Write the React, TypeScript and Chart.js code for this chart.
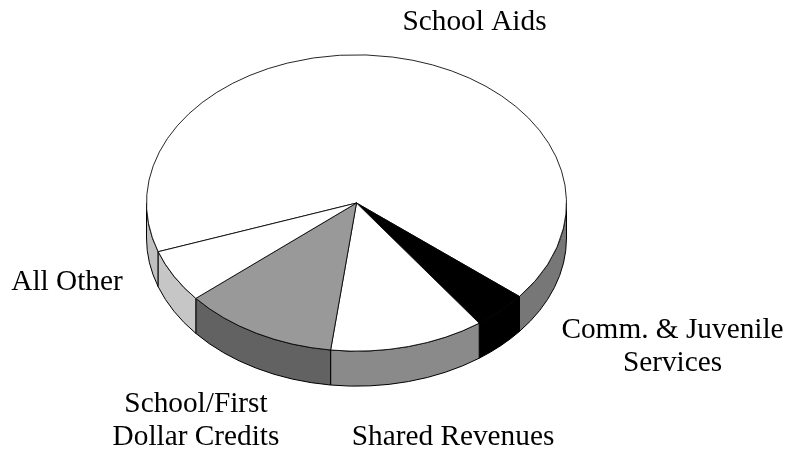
import React, { useEffect, useRef } from "react";
import { Chart, registerables } from "chart.js";

Chart.register(...registerables);

const categories = ["School Aids", "Comm. & Juvenile Services", "Shared Revenues", "School/First Dollar Credits", "All Other"];
const shares = [66.2, 4.2, 11.9, 11.9, 5.8];
const topColors = ["#ffffff", "#000000", "#ffffff", "#999999", "#ffffff"];
const wallColors = ["#777777", "#000000", "#8a8a8a", "#626262", "#c6c6c6"];
const wrappedWallColor = "#c0c0c0"; // left-hand rim of the first slice, lit from the left
const startAngleDeg = 250.8;

// Projection of the flat pie onto the tilted disc
const DISC = { cx: 356.5, cy: 203, squash: 148.5 / 210.5, depth: 35 };

const LABELS: { lines: string[]; x: number; y: number }[] = [
  { lines: ["School Aids"], x: 474.5, y: 30 },
  { lines: ["Comm. & Juvenile", "Services"], x: 672.5, y: 338 },
  { lines: ["Shared Revenues"], x: 453, y: 445 },
  { lines: ["School/First", "Dollar Credits"], x: 196, y: 412 },
  { lines: ["All Other"], x: 67, y: 290 },
];
const LINE_HEIGHT = 33;

const pie3d = {
  id: "pie3d",
  beforeDatasetDraw(chart: any) {
    const { ctx } = chart;
    const arcs = chart.getDatasetMeta(0).data;
    const { cx, cy, squash, depth } = DISC;
    const r = arcs[0].outerRadius;
    const ry = r * squash;
    const wall = (a: number, b: number, color: string) => {
      ctx.beginPath();
      ctx.ellipse(cx, cy, r, ry, 0, a, b, false);
      ctx.lineTo(cx + r * Math.cos(b), cy + ry * Math.sin(b) + depth);
      ctx.ellipse(cx, cy + depth, r, ry, 0, b, a, true);
      ctx.closePath();
      ctx.fillStyle = color;
      ctx.fill();
      ctx.strokeStyle = "#000000";
      ctx.lineWidth = 1;
      ctx.stroke();
    };
    ctx.save();
    arcs.forEach((arc: any, i: number) => {
      // the visible rim is the front half of the disc: canvas angles 0..PI, also 2PI..3PI
      for (const shift of [0, 2 * Math.PI, -2 * Math.PI]) {
        const a = Math.max(arc.startAngle - shift, 0);
        const b = Math.min(arc.endAngle - shift, Math.PI);
        if (b > a) wall(a, b, i === 0 && a > Math.PI / 2 ? wrappedWallColor : wallColors[i]);
      }
    });
    ctx.restore();
    ctx.save();
    ctx.translate(cx, cy);
    ctx.scale(1, squash);
    ctx.translate(-arcs[0].x, -arcs[0].y);
  },
  afterDatasetDraw(chart: any) {
    chart.ctx.restore();
  },
  afterDraw(chart: any) {
    const { ctx } = chart;
    ctx.save();
    ctx.fillStyle = "#000000";
    ctx.font = '29.3px "Liberation Serif"';
    ctx.textAlign = "center";
    ctx.textBaseline = "alphabetic";
    LABELS.forEach((l) => l.lines.forEach((t, k) => ctx.fillText(t, l.x, l.y + k * LINE_HEIGHT)));
    ctx.restore();
  },
};

export default function App() {
  const ref = useRef<HTMLCanvasElement>(null);
  useEffect(() => {
    document.body.style.margin = "0";
    document.body.style.background = "#ffffff";
    const chart = new Chart(ref.current!, {
      type: "pie",
      data: {
        labels: categories,
        datasets: [{ data: shares, backgroundColor: topColors, borderColor: "#000000", borderWidth: 1, borderAlign: "center" }],
      },
      options: {
        responsive: false,
        animation: false,
        rotation: startAngleDeg,
        layout: { padding: { left: 146, right: 221, top: 16, bottom: 17 } },
        plugins: { legend: { display: false }, tooltip: { enabled: false } },
      },
      plugins: [pie3d],
    } as any);
    return () => chart.destroy();
  }, []);
  return <canvas ref={ref} width={788} height={454} style={{ display: "block" }} />;
}
